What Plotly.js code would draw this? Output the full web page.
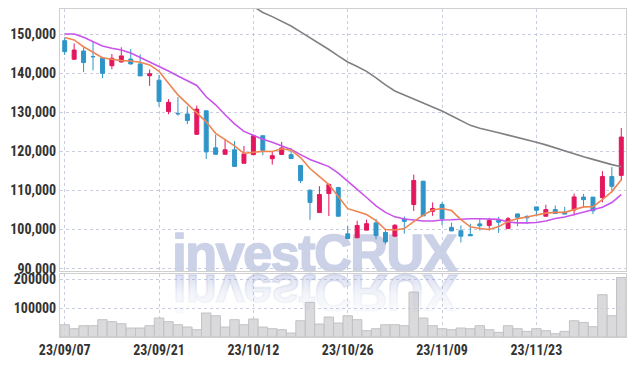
<!DOCTYPE html>
<html><head><meta charset="utf-8">
<script src="https://cdn.plot.ly/plotly-3.0.1.min.js"></script>
<style>html,body{margin:0;padding:0;background:#fff}#chart{width:634px;height:366px}</style>
</head><body><div id="chart"></div>
<script>
const dates = ["23/09/07","23/09/08","23/09/11","23/09/12","23/09/13","23/09/14","23/09/15","23/09/18","23/09/19","23/09/20",
"23/09/21","23/09/22","23/09/25","23/09/26","23/09/27","23/10/04","23/10/05","23/10/06","23/10/10","23/10/11",
"23/10/12","23/10/13","23/10/16","23/10/17","23/10/18","23/10/19","23/10/20","23/10/23","23/10/24","23/10/25",
"23/10/26","23/10/27","23/10/30","23/10/31","23/11/01","23/11/02","23/11/03","23/11/06","23/11/07","23/11/08",
"23/11/09","23/11/10","23/11/13","23/11/14","23/11/15","23/11/16","23/11/17","23/11/20","23/11/21","23/11/22",
"23/11/23","23/11/24","23/11/27","23/11/28","23/11/29","23/11/30","23/12/01","23/12/04","23/12/05","23/12/06"];
const tickDates = ["23/09/07","23/09/21","23/10/12","23/10/26","23/11/09","23/11/23"];

const open = [148300,143550,145650,144250,143900,141900,142850,143600,142350,139350,
138200,130200,129700,129550,124350,130350,120900,119250,120400,116950,
119150,124000,118100,119200,119150,116400,110050,104350,109200,110750,
98900,97900,99850,101700,99250,98300,102700,106400,112350,104650,
106400,100550,99700,98750,101450,101050,102300,100250,104000,103350,
105800,103400,105100,104450,105000,108300,108300,108150,113550,113850];
const high = [149150,147600,146750,148000,144150,144900,146600,146150,144800,140950,
139550,133350,133850,131500,131700,130600,124250,123200,122600,121350,
124250,124000,119850,122400,120850,116400,110300,111100,111800,110900,
100900,102250,102550,102750,100000,101400,103350,114050,112500,106950,
107000,101750,101050,101500,102850,103000,103250,103200,104050,103700,
105800,106350,106150,105800,109200,109100,108300,114950,116000,125950];
const low = [144650,143500,140250,140700,138700,141000,142700,142200,139200,136750,
131450,129500,129150,126950,124250,118050,119150,119200,116150,116950,
119150,119000,116600,119200,118150,111900,102500,104350,103450,103400,
97600,97900,99850,97500,96200,98300,98950,104750,103500,103500,
101150,99650,96700,98400,99750,99750,99150,100250,100850,101400,
103350,103400,104100,103950,103600,105550,103950,106950,109450,112600];
const close = [145500,145900,142700,144200,139950,143800,144400,142350,139300,139850,
132750,132550,129600,127900,130800,119850,119250,120400,116150,119350,
124000,120250,118900,120850,118150,112500,106950,108950,111500,103400,
97700,101050,101500,98500,96850,101100,102100,112550,103500,105400,
102750,99650,98300,98400,100950,102300,101900,102750,103150,103000,
104950,105100,104100,103950,108350,107650,104800,113550,111050,123650];
const volume = [42400,28600,39000,39000,59700,52800,45900,31000,31000,39000,
65500,52800,42400,34500,25200,82800,73400,34500,59700,42400,
62100,34500,28600,25200,13800,56200,119300,44800,69000,48300,
73400,59700,21700,28600,42400,42400,39000,155200,65500,39000,
28600,25200,31000,28600,39000,25200,15900,39000,28600,19300,
28600,21700,11400,19300,56200,50300,35500,145900,73400,205500];
const ma5 = [149100,148500,146750,145400,143950,143550,143200,143100,142800,142100,
140450,137400,134450,132150,129850,127550,124600,122950,121400,119500,
119750,120000,119950,120650,120300,118400,115600,113550,111500,108450,
105350,104600,103850,102300,100000,99900,100250,102050,103700,105000,
105400,104850,102550,100700,100250,100000,100750,102050,102800,103200,
103700,104200,104400,104400,105100,105800,105850,107650,109700,112750];
const ma20 = [150000,150000,149150,148100,146950,146350,145900,145150,144000,143000,
141750,140550,139250,138000,136850,133950,131900,129350,127050,125100,
124000,123100,122350,121450,120450,119150,117900,117000,116100,114450,
112250,110250,108200,106050,104400,103250,102700,102450,102200,102200,
102450,102500,102700,102750,102750,102700,102600,101950,101700,101700,
101800,102200,102850,103200,103850,104500,105100,105700,106900,108950];
// long average: values from 23/10/11 on (earlier ones lie above the chart)
const ma60Dates = dates.slice(19);
const ma60 = [158600,
157100,155500,154450,153350,152050,150550,149100,147700,146050,144400,
142850,141700,140450,138800,137000,135450,134450,133400,132400,131400,
130300,129100,127950,126650,125900,125400,124750,124150,123600,122950,
122350,121650,120900,120000,119250,118600,117950,117250,116600,116050];

const UP = '#e3175e', DOWN = '#2f95c8';
const grid = '#c9cde0';
const WM = '#cbd1e7';
const tickFont = {family: '"Liberation Sans Narrow", "Roboto Condensed", "Liberation Sans", sans-serif', size: 14, color: '#333', weight: 700};

const traces = [
  {type:'bar', x: dates, y: volume, xaxis:'x2', yaxis:'y2',
   marker:{color:'rgba(212,212,214,0.85)', line:{color:'#c2c2c4', width:1}}, width:1, hoverinfo:'skip'},
  {type:'candlestick', x: dates, open, high, low, close, xaxis:'x', yaxis:'y',
   increasing:{line:{color:UP, width:1}, fillcolor:UP},
   decreasing:{line:{color:DOWN, width:1}, fillcolor:DOWN}, whiskerwidth:0, hoverinfo:'skip'},
  {type:'scatter', mode:'lines', x: ma60Dates, y: ma60, xaxis:'x', yaxis:'y',
   line:{color:'#808080', width:1.6}, hoverinfo:'skip'},
  {type:'scatter', mode:'lines', x: dates, y: ma20, xaxis:'x', yaxis:'y',
   line:{color:'#c953ec', width:1.6}, hoverinfo:'skip'},
  {type:'scatter', mode:'lines', x: dates, y: ma5, xaxis:'x', yaxis:'y',
   line:{color:'#ef8552', width:1.6}, hoverinfo:'skip'}
];

const xcommon = {type:'category', categoryorder:'array', categoryarray: dates, range:[-0.5, 59.5],
  tickvals: tickDates, ticktext: tickDates, showgrid:true, gridcolor:grid, griddash:'dot', gridwidth:1,
  showline:true, linecolor:'#cfcfcf', linewidth:1, mirror:true, ticks:'', zeroline:false,
  rangeslider:{visible:false}, tickfont: tickFont, fixedrange:true};

const layout = {
  width:634, height:366, margin:{l:60, r:8, t:9, b:29},
  paper_bgcolor:'#fff', plot_bgcolor:'#fff', showlegend:false, boxgap:0.4, bargap:0,
  xaxis: Object.assign({}, xcommon, {anchor:'y', showticklabels:false}),
  xaxis2: Object.assign({}, xcommon, {anchor:'y2', matches:'x', showticklabels:true}),
  yaxis: {domain:[0.2, 1], range:[89300, 156400], tickvals:[90000,100000,110000,120000,130000,140000,150000],
    tickformat:',d', showgrid:true, gridcolor:grid, griddash:'dot', showline:true, linecolor:'#cfcfcf', mirror:true,
    zeroline:false, ticks:'', tickfont: tickFont, fixedrange:true},
  yaxis2: {domain:[0, 0.193], range:[0, 218600], tickvals:[100000,200000], tickformat:'d',
    showgrid:true, gridcolor:grid, griddash:'dot', showline:true, linecolor:'#cfcfcf', mirror:true,
    zeroline:false, ticks:'', tickfont: tickFont, fixedrange:true},
  annotations: [
    {text:'investCRUX', xref:'paper', yref:'paper', x:0.45, y:0.2, showarrow:false,
     font:{family:'"Liberation Sans", Arial, sans-serif', size:52, weight:700, color:WM}}
  ]
};

Plotly.newPlot('chart', traces, layout, {staticPlot:true}).then(() => {
  const annG = document.querySelector('#chart .annotation');
  if (!annG) return;
  const t = annG.querySelector('text');
  if (!t) return;
  t.style.letterSpacing = '-1.4px';
  const base = t.getAttribute('transform') || '';
  const r = t.getBoundingClientRect();
  const bb = t.getBBox();
  const blLocal = bb.y + 0.81 * bb.height;
  const blScreen = r.top + (blLocal - bb.y);
  const dx = 315 - (r.left + r.width / 2);
  const dy = 271 - blScreen;
  const refl = annG.cloneNode(true);
  annG.parentNode.appendChild(refl);
  t.setAttribute('transform', 'translate(' + dx + ',' + dy + ') ' + base);
  t.style.stroke = WM; t.style.strokeWidth = '1.6px'; t.style.strokeLinejoin = 'round';
  const rt = refl.querySelector('text');
  rt.style.letterSpacing = '-1.4px';
  const b2 = blLocal + 2;
  rt.setAttribute('transform', 'translate(' + dx + ',' + dy + ') translate(0,' + (2 * b2) + ') scale(1,-1) ' + base);
  const svg = document.querySelector('#chart svg.main-svg');
  const ns = 'http://www.w3.org/2000/svg';
  const defs = document.createElementNS(ns, 'defs');
  const lg = document.createElementNS(ns, 'linearGradient');
  lg.setAttribute('id', 'wmfade'); lg.setAttribute('x1', '0'); lg.setAttribute('y1', '0');
  lg.setAttribute('x2', '0'); lg.setAttribute('y2', '1');
  [['0', 0], ['0.5', 0.12], ['0.8', 0.32], ['1', 0.42]].forEach(([o, a]) => {
    const s = document.createElementNS(ns, 'stop');
    s.setAttribute('offset', o); s.setAttribute('stop-color', 'rgb(150,163,210)'); s.setAttribute('stop-opacity', a);
    lg.appendChild(s);
  });
  defs.appendChild(lg); svg.insertBefore(defs, svg.firstChild);
  rt.style.fill = 'url(#wmfade)';
  rt.style.stroke = 'url(#wmfade)'; rt.style.strokeWidth = '1.6px';
  const cl = svg.querySelector('.cartesianlayer');
  if (cl) cl.parentNode.insertBefore(annG, cl);
});
</script></body></html>
